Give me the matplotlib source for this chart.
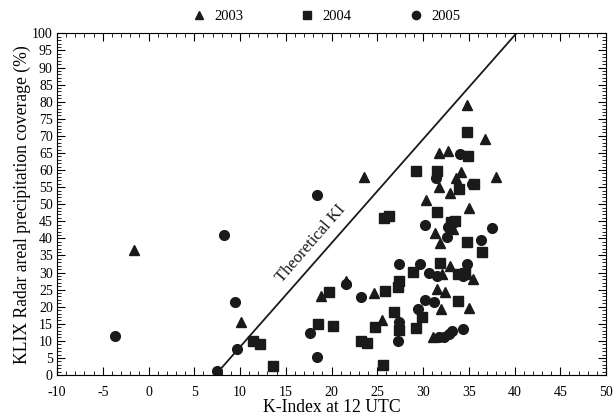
import numpy as np
import matplotlib
matplotlib.use("Agg")
import matplotlib.pyplot as plt
from matplotlib.ticker import MultipleLocator

plt.rcParams['font.family'] = ['Liberation Serif', 'DejaVu Serif']
plt.rcParams['axes.unicode_minus'] = False

## Data: K-Index (x) vs radar coverage (y)
ki_2003 = [-1.6, 10.1, 23.6, 18.8, 21.6, 24.6, 25.5, 31.7, 31.7, 32.7, 33.6, 34.2,
           33.0, 30.3, 33.3, 31.3, 31.9, 33.0, 32.1, 31.5, 32.4, 32.0, 31.1,
           34.8, 36.8, 38.0, 35.0, 34.8, 35.5, 35.0]
cov_2003 = [36.6, 15.6, 57.9, 23.2, 27.5, 23.9, 16.2, 55.1, 65.1, 65.6, 57.6, 59.5,
            53.4, 51.2, 42.7, 41.5, 38.5, 31.9, 29.6, 25.1, 24.4, 19.3, 11.0,
            79.0, 69.0, 58.0, 49.0, 29.5, 28.0, 19.5]

ki_2004 = [11.4, 12.2, 13.6, 18.5, 19.7, 20.2, 23.2, 23.9, 24.8, 25.6, 25.8, 25.7,
           26.3, 26.8, 27.3, 27.4, 27.4, 28.9, 29.2, 29.2, 29.9, 31.5, 31.5, 31.9,
           33.1, 33.5, 33.8, 33.8, 33.9,
           34.8, 34.9, 35.6, 34.8, 36.4, 34.6]
cov_2004 = [10.0, 9.2, 2.7, 14.9, 24.4, 14.3, 10.0, 9.5, 14.1, 2.9, 24.7, 46.0,
            46.6, 18.4, 25.8, 27.6, 13.2, 30.1, 59.8, 13.8, 17.1, 59.8, 47.8, 32.7,
            44.9, 45.2, 29.6, 21.8, 54.3,
            71.0, 64.0, 56.0, 39.0, 36.0, 30.0]

ki_2005 = [-3.7, 7.5, 8.3, 9.45, 9.67, 17.6, 18.4, 18.4, 21.6, 23.2, 27.3, 27.4,
           27.4, 29.4, 29.7, 30.2, 30.2, 30.7, 31.2, 31.4, 31.5, 31.8, 32.3, 32.6,
           32.7, 32.8, 33.2, 34.0,
           35.3, 36.3, 37.5, 34.8, 34.4, 34.4]
cov_2005 = [11.3, 1.3, 41.1, 21.5, 7.6, 12.4, 52.7, 5.3, 26.5, 22.9, 10.0, 32.5,
            15.6, 19.3, 32.6, 43.9, 21.9, 29.8, 21.5, 57.7, 29.1, 11.0, 11.2, 40.5,
            43.4, 12.0, 12.9, 64.7,
            55.8, 39.5, 43.0, 32.5, 29.0, 13.5]

# theoretical KI line end points
ki_line = [7.3, 40.2]
cov_line = [0, 100]


fig = plt.figure(figsize=(6.13, 4.17), dpi=100)
ax = fig.add_axes([0.093, 0.1007, 0.8956, 0.8193])

ax.plot(ki_line, cov_line, color='#1a1a1a', lw=1.3)
ax.plot(ki_2003, cov_2003, '^', color='#1a1a1a', ms=7, ls='none', label='2003')
ax.plot(ki_2004, cov_2004, 's', color='#1a1a1a', ms=6.5, ls='none', label='2004')
ax.plot(ki_2005, cov_2005, 'o', color='#1a1a1a', ms=7, ls='none', label='2005')

ax.text(17.7, 38.6, 'Theoretical KI', rotation=49, ha='center', va='center',
        fontsize=12, color='#1a1a1a')

ax.set_xlim(-10, 50)
ax.set_ylim(0, 100)
ax.xaxis.set_major_locator(MultipleLocator(5))
ax.xaxis.set_minor_locator(MultipleLocator(1))
ax.yaxis.set_major_locator(MultipleLocator(5))
ax.yaxis.set_minor_locator(MultipleLocator(1))
ax.tick_params(which='both', direction='in', top=True, right=True, labelsize=10)
ax.tick_params(which='major', length=6)
ax.tick_params(which='minor', length=3)
ax.tick_params(axis='x', pad=8)
ax.tick_params(axis='y', pad=3)

ax.set_xlabel('K-Index at 12 UTC', fontsize=12.7, labelpad=0)
ax.set_ylabel('KLIX Radar areal precipitation coverage (%)', fontsize=12.7, labelpad=1)

ax.legend(loc='lower center', bbox_to_anchor=(0.483, 1.01), ncol=3, frameon=False,
          fontsize=10.5, handletextpad=0.05, columnspacing=3.4, markerscale=0.85,
          borderaxespad=0.1)

fig.savefig('out.png', dpi=100)
